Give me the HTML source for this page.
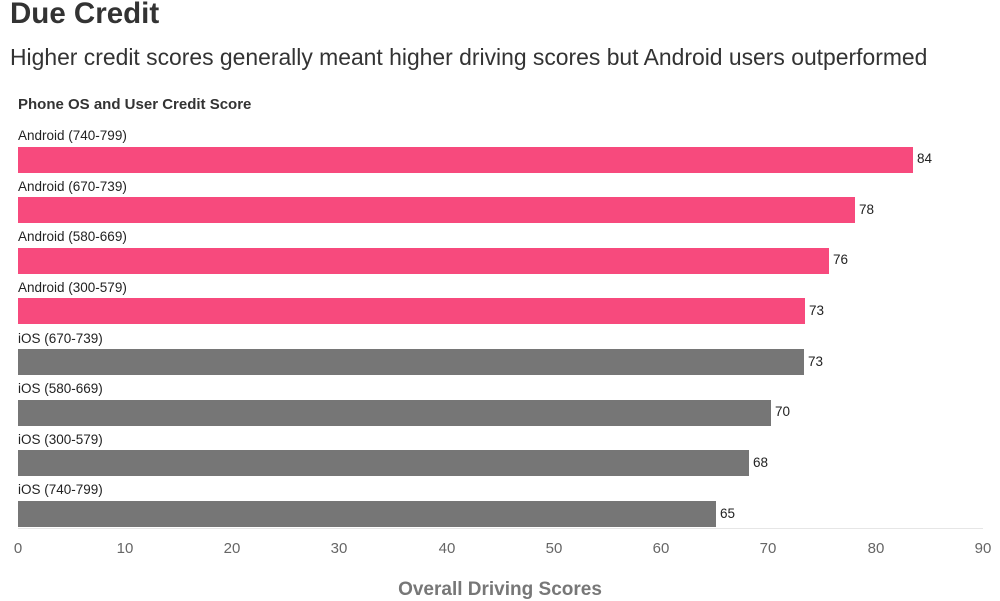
<!DOCTYPE html>
<html><head><meta charset="utf-8"><style>
body{margin:0;width:1000px;height:600px;overflow:hidden;background:#fff;font-family:"Liberation Sans",sans-serif;position:relative}
.a{position:absolute;white-space:nowrap}
.bar{position:absolute;left:18px;height:26px}
.lab{position:absolute;left:18px;font-size:13.5px;color:#222}
.val{position:absolute;font-size:13.5px;color:#222}
.t{position:absolute;top:540px;font-size:15px;color:#666;transform:translateX(-50%)}
</style></head><body>
<div class="a" style="left:10px;top:-3px;font-size:29.5px;font-weight:bold;color:#333">Due Credit</div>
<div class="a" style="left:10px;top:44px;font-size:22.9px;color:#333">Higher credit scores generally meant higher driving scores but Android users outperformed</div>
<div class="a" style="left:18px;top:96px;font-size:15px;font-weight:bold;color:#333">Phone OS and User Credit Score</div>
<div style="position:absolute;left:18px;top:528px;width:965px;height:1px;background:#e6e6e6"></div>
<div class="t" style="left:18px">0</div><div class="t" style="left:125px">10</div><div class="t" style="left:232px">20</div><div class="t" style="left:339px">30</div><div class="t" style="left:447px">40</div><div class="t" style="left:554px">50</div><div class="t" style="left:661px">60</div><div class="t" style="left:768px">70</div><div class="t" style="left:876px">80</div><div class="t" style="left:983px">90</div>
<div class="a" style="left:0;width:1000px;text-align:center;top:579px;font-size:19px;font-weight:bold;color:#777">Overall Driving Scores</div>

<div class="lab" style="top:128px">Android (740-799)</div><div class="bar" style="top:147px;width:895px;background:#f74a7d"></div><div class="val" style="left:917px;top:151px">84</div>
<div class="lab" style="top:179px">Android (670-739)</div><div class="bar" style="top:197px;width:837px;background:#f74a7d"></div><div class="val" style="left:859px;top:202px">78</div>
<div class="lab" style="top:229px">Android (580-669)</div><div class="bar" style="top:248px;width:811px;background:#f74a7d"></div><div class="val" style="left:833px;top:252px">76</div>
<div class="lab" style="top:280px">Android (300-579)</div><div class="bar" style="top:298px;width:787px;background:#f74a7d"></div><div class="val" style="left:809px;top:303px">73</div>
<div class="lab" style="top:331px">iOS (670-739)</div><div class="bar" style="top:349px;width:786px;background:#767676"></div><div class="val" style="left:808px;top:354px">73</div>
<div class="lab" style="top:381px">iOS (580-669)</div><div class="bar" style="top:400px;width:753px;background:#767676"></div><div class="val" style="left:775px;top:404px">70</div>
<div class="lab" style="top:432px">iOS (300-579)</div><div class="bar" style="top:450px;width:731px;background:#767676"></div><div class="val" style="left:753px;top:455px">68</div>
<div class="lab" style="top:482px">iOS (740-799)</div><div class="bar" style="top:501px;width:698px;background:#767676"></div><div class="val" style="left:720px;top:506px">65</div>
</body></html>
